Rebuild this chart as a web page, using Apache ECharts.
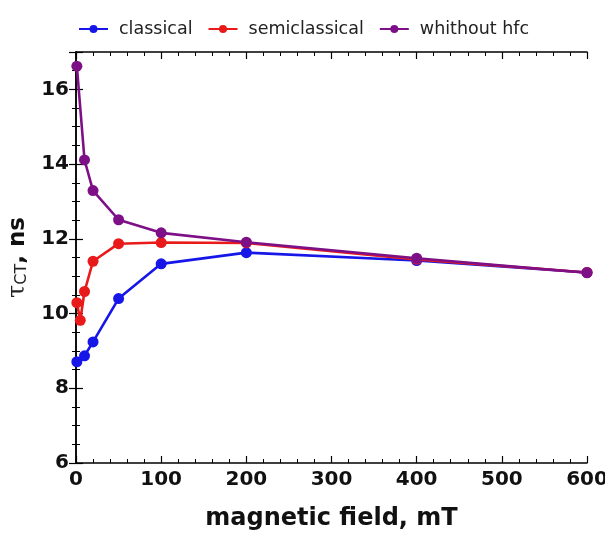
<!DOCTYPE html>
<html>
<head>
<meta charset="utf-8">
<script src="https://cdn.jsdelivr.net/npm/echarts@6/dist/echarts.min.js"></script>
<style>
  html, body { margin: 0; padding: 0; background: #fff; }
  #chart { width: 605px; height: 533px; }
</style>
</head>
<body>
<div id="chart"></div>
<script>
// field values, mT
var classicalField = [1, 10, 20, 50, 100, 200, 400, 600]
var classicalTau = [8.71, 8.87, 9.24, 10.4, 11.33, 11.63, 11.42, 11.1]
var semiField = [1, 5, 10, 20, 50, 100, 200, 400, 600]
var semiTau = [10.29, 9.82, 10.59, 11.4, 11.87, 11.9, 11.89, 11.45, 11.1]
var nohfcField = [1, 10, 20, 50, 100, 200, 400, 600]
var nohfcTau = [16.62, 14.11, 13.29, 12.51, 12.16, 11.91, 11.48, 11.09]
var seriesNames = ['classical', 'semiclassical', 'whithout hfc']
var seriesColors = ['#1616e8', '#e81a1a', '#7e1087']

function pairs(xs, ys) {
  return xs.map(function (x, i) { return [x, ys[i]] })
}

var chart = echarts.init(document.getElementById('chart'))

var labelFont = { fontFamily: 'DejaVu Sans', fontWeight: 'bold', fontSize: 20, color: '#111' }

var frameAxis = {
  axisLine: { show: true, lineStyle: { color: '#000', width: 1.5 } },
  axisTick: { show: true, inside: true, length: 7, lineStyle: { color: '#000', width: 1.2 } },
  minorTick: { show: true, length: 4, lineStyle: { color: '#000', width: 1 } },
  splitLine: { show: false }
}

function makeSeries(i, xs, ys) {
  return {
    name: seriesNames[i],
    type: 'line',
    data: pairs(xs, ys),
    symbol: 'circle',
    symbolSize: 11,
    color: seriesColors[i],
    lineStyle: { width: 2.6, color: seriesColors[i] },
    itemStyle: { color: seriesColors[i] },
    animation: false
  }
}

chart.setOption({
  animation: false,
  legend: {
    top: 15,
    left: 73,
    itemWidth: 29,
    itemHeight: 10,
    itemGap: 15,
    textStyle: { fontFamily: 'DejaVu Sans', fontSize: 17.5, color: '#222', padding: [0, 0, 0, 6] },
    data: seriesNames
  },
  grid: { left: 76, right: 18, top: 52, bottom: 70, outerBoundsMode: 'none' },
  xAxis: [
    Object.assign({}, frameAxis, {
      type: 'value', min: 0, max: 600, interval: 100,
      minorTick: Object.assign({}, frameAxis.minorTick, { splitNumber: 5 }),
      axisLabel: Object.assign({ margin: 7 }, labelFont),
      name: 'magnetic field, mT',
      nameLocation: 'middle',
      nameGap: 44,
      nameTextStyle: { fontFamily: 'DejaVu Sans', fontWeight: 'bold', fontSize: 24, color: '#111' }
    }),
    Object.assign({}, frameAxis, {
      type: 'value', position: 'top', min: 0, max: 600, interval: 100,
      minorTick: Object.assign({}, frameAxis.minorTick, { splitNumber: 5 }),
      axisLabel: { show: false }
    })
  ],
  yAxis: [
    Object.assign({}, frameAxis, {
      type: 'value', min: 6, max: 17, interval: 2,
      minorTick: Object.assign({}, frameAxis.minorTick, { splitNumber: 4 }),
      axisLabel: Object.assign({ margin: 7, showMaxLabel: false }, labelFont),
      name: '{t|τ}{s|CT}{n|, ns}',
      nameLocation: 'middle',
      nameGap: 46,
      nameRotate: 90,
      nameTextStyle: {
        rich: {
          t: { fontFamily: 'DejaVu Serif', fontSize: 24, color: '#222' },
          s: { fontFamily: 'DejaVu Sans', fontSize: 16, color: '#222', padding: [8, 0, 0, 0] },
          n: { fontFamily: 'DejaVu Sans', fontWeight: 'bold', fontSize: 23, color: '#111' }
        }
      }
    }),
    Object.assign({}, frameAxis, {
      type: 'value', position: 'right', min: 6, max: 17, interval: 2,
      minorTick: Object.assign({}, frameAxis.minorTick, { splitNumber: 4 }),
      axisLabel: { show: false }
    })
  ],
  series: [
    makeSeries(0, classicalField, classicalTau),
    makeSeries(1, semiField, semiTau),
    makeSeries(2, nohfcField, nohfcTau)
  ]
})
</script>
</body>
</html>
